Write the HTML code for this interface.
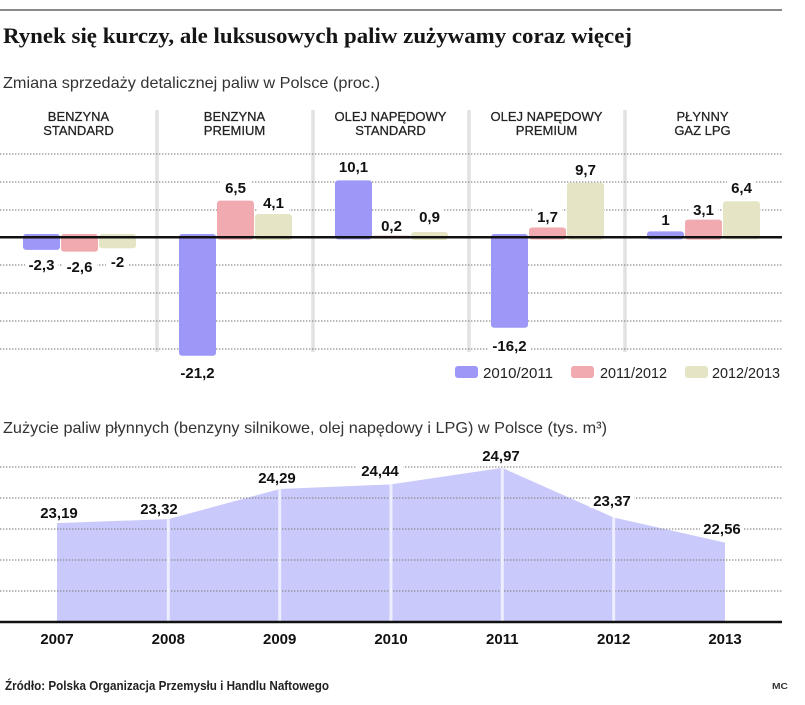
<!DOCTYPE html>
<html><head><meta charset="utf-8">
<style>
html,body{margin:0;padding:0;background:#fff;}
svg{display:block;}
text{font-family:"Liberation Sans",sans-serif;}
</style></head>
<body>
<svg width="805" height="705" viewBox="0 0 805 705" xmlns="http://www.w3.org/2000/svg">
<rect width="805" height="705" fill="#fff"/>
<!-- top rule -->
<line x1="0" y1="10" x2="782" y2="10" stroke="#8a8a8a" stroke-width="2"/>
<!-- title -->
<text x="3" y="43" style="font-family:'Liberation Serif',serif;font-weight:bold;font-size:22px" fill="#151515" textLength="629" lengthAdjust="spacingAndGlyphs">Rynek się kurczy, ale luksusowych paliw zużywamy coraz więcej</text>
<text x="3" y="88" font-size="16" fill="#333" textLength="377" lengthAdjust="spacingAndGlyphs">Zmiana sprzedaży detalicznej paliw w Polsce (proc.)</text>

<!-- category headers -->
<g font-size="13" fill="#222" text-anchor="middle" stroke="#222" stroke-width="0.25">
<text x="78.5" y="121">BENZYNA</text><text x="78.5" y="135">STANDARD</text>
<text x="234.5" y="121">BENZYNA</text><text x="234.5" y="135">PREMIUM</text>
<text x="390.5" y="121">OLEJ NAPĘDOWY</text><text x="390.5" y="135">STANDARD</text>
<text x="546.5" y="121">OLEJ NAPĘDOWY</text><text x="546.5" y="135">PREMIUM</text>
<text x="702.5" y="121">PŁYNNY</text><text x="702.5" y="135">GAZ LPG</text>
</g>

<!-- separators -->
<g stroke="#e2e2e2" stroke-width="3.5">
<line x1="157" y1="110" x2="157" y2="352"/>
<line x1="313" y1="110" x2="313" y2="352"/>
<line x1="469" y1="110" x2="469" y2="352"/>
<line x1="625" y1="110" x2="625" y2="352"/>
</g>

<!-- dotted grid top -->
<g stroke="#8c8c8c" stroke-width="1.3" stroke-dasharray="1.4 1.6">
<line x1="0" y1="154" x2="782" y2="154"/>
<line x1="0" y1="182" x2="782" y2="182"/>
<line x1="0" y1="210" x2="782" y2="210"/>
<line x1="0" y1="265" x2="782" y2="265"/>
<line x1="0" y1="293" x2="782" y2="293"/>
<line x1="0" y1="321" x2="782" y2="321"/>
<line x1="0" y1="349" x2="782" y2="349"/>
</g>

<!-- bars -->
<g>
<rect x="23" y="234" width="37" height="15.9" rx="3" fill="#9d97f7"/>
<rect x="61" y="234" width="37" height="17.6" rx="3" fill="#f1aaaf"/>
<rect x="99" y="234" width="37" height="14.2" rx="3" fill="#e5e5c6"/>

<rect x="179" y="234" width="37" height="121.7" rx="3" fill="#9d97f7"/>
<rect x="217" y="200.6" width="37" height="39" rx="3" fill="#f1aaaf"/>
<rect x="255" y="214" width="37" height="26" rx="3" fill="#e5e5c6"/>

<rect x="335" y="180.4" width="37" height="59" rx="3" fill="#9d97f7"/>
<rect x="373" y="235.6" width="37" height="3" rx="1" fill="#f1aaaf"/>
<rect x="411" y="232" width="37" height="8" rx="3" fill="#e5e5c6"/>

<rect x="491" y="234" width="37" height="93.7" rx="3" fill="#9d97f7"/>
<rect x="529" y="227.5" width="37" height="12" rx="3" fill="#f1aaaf"/>
<rect x="567" y="182.7" width="37" height="57" rx="3" fill="#e5e5c6"/>

<rect x="647" y="231.4" width="37" height="8" rx="3" fill="#9d97f7"/>
<rect x="685" y="219.6" width="37" height="20" rx="3" fill="#f1aaaf"/>
<rect x="723" y="201.2" width="37" height="38" rx="3" fill="#e5e5c6"/>
</g>
<!-- zero line -->
<line x1="0" y1="237.3" x2="782" y2="237.3" stroke="#111" stroke-width="2.5"/>

<!-- value labels -->
<g font-size="15" font-weight="bold" fill="#111" text-anchor="middle">
<rect x="25" y="257" width="33" height="16" fill="#fff"/><text x="41.5" y="270">-2,3</text>
<rect x="62" y="259" width="35" height="16" fill="#fff"/><text x="79.5" y="272">-2,6</text>
<rect x="106" y="254" width="23" height="16" fill="#fff"/><text x="117.5" y="267">-2</text>
<text x="197.5" y="378">-21,2</text>
<rect x="220" y="180" width="31" height="16" fill="#fff"/><text x="235.5" y="193">6,5</text>
<rect x="258" y="195" width="31" height="16" fill="#fff"/><text x="273.5" y="208">4,1</text>
<rect x="336" y="159" width="35" height="16" fill="#fff"/><text x="353.5" y="172">10,1</text>
<rect x="377" y="218" width="29" height="16" fill="#fff"/><text x="391.5" y="231">0,2</text>
<rect x="415" y="209" width="29" height="16" fill="#fff"/><text x="429.5" y="222">0,9</text>
<rect x="489" y="338" width="41" height="16" fill="#fff"/><text x="509.5" y="351">-16,2</text>
<rect x="533" y="209" width="29" height="16" fill="#fff"/><text x="547.5" y="222">1,7</text>
<rect x="571" y="162" width="29" height="16" fill="#fff"/><text x="585.5" y="175">9,7</text>
<rect x="658" y="212" width="15" height="16" fill="#fff"/><text x="665.5" y="225">1</text>
<rect x="689" y="202" width="29" height="16" fill="#fff"/><text x="703.5" y="215">3,1</text>
<rect x="727" y="180" width="29" height="16" fill="#fff"/><text x="741.5" y="193">6,4</text>
</g>

<!-- legend -->
<rect x="455" y="366" width="23" height="12" rx="3" fill="#9d97f7"/>
<text x="483" y="378" font-size="15" fill="#222" textLength="70" lengthAdjust="spacingAndGlyphs">2010/2011</text>
<rect x="571" y="366" width="23" height="12" rx="3" fill="#f1aaaf"/>
<text x="600" y="378" font-size="15" fill="#222" textLength="67" lengthAdjust="spacingAndGlyphs">2011/2012</text>
<rect x="685" y="366" width="23" height="12" rx="3" fill="#e5e5c6"/>
<text x="712" y="378" font-size="15" fill="#222" textLength="68" lengthAdjust="spacingAndGlyphs">2012/2013</text>

<!-- second chart -->
<text x="3" y="433" font-size="16" fill="#333" textLength="604" lengthAdjust="spacingAndGlyphs">Zużycie paliw płynnych (benzyny silnikowe, olej napędowy i LPG) w Polsce (tys. m³)</text>

<path d="M57,523.1 L168.3,519.1 L279.7,489 L391,484.4 L502.3,467.9 L613.7,517.5 L725,542.6 L725,622 L57,622 Z" fill="#c9c9fb"/>

<g stroke="#8c8c8c" stroke-width="1.3" stroke-dasharray="1.4 1.6">
<line x1="0" y1="467" x2="782" y2="467"/>
<line x1="0" y1="498" x2="782" y2="498"/>
<line x1="0" y1="529" x2="782" y2="529"/>
<line x1="0" y1="560" x2="782" y2="560"/>
<line x1="0" y1="591" x2="782" y2="591"/>
</g>

<g stroke="#eeeefe" stroke-width="3">
<line x1="168.3" y1="519.1" x2="168.3" y2="622"/>
<line x1="279.7" y1="489" x2="279.7" y2="622"/>
<line x1="391" y1="484.4" x2="391" y2="622"/>
<line x1="502.3" y1="467.9" x2="502.3" y2="622"/>
<line x1="613.7" y1="517.5" x2="613.7" y2="622"/>
</g>

<line x1="0" y1="622" x2="782" y2="622" stroke="#111" stroke-width="2.5"/>

<g font-size="15" font-weight="bold" fill="#111" text-anchor="middle">
<text x="59" y="518">23,19</text>
<rect x="138" y="500" width="42" height="16" fill="#fff"/><text x="159" y="514">23,32</text>
<text x="277" y="483">24,29</text>
<rect x="357" y="462" width="46" height="16" fill="#fff"/><text x="380" y="476">24,44</text>
<text x="501" y="461">24,97</text>
<rect x="590" y="492" width="44" height="16" fill="#fff"/><text x="612" y="506">23,37</text>
<rect x="700" y="520" width="44" height="16" fill="#fff"/><text x="722" y="534">22,56</text>
</g>

<g font-size="15" font-weight="bold" fill="#111" text-anchor="middle">
<text x="57" y="644">2007</text>
<text x="168.3" y="644">2008</text>
<text x="279.7" y="644">2009</text>
<text x="391" y="644">2010</text>
<text x="502.3" y="644">2011</text>
<text x="613.7" y="644">2012</text>
<text x="725" y="644">2013</text>
</g>

<text x="5" y="690" font-size="12.5" font-weight="bold" fill="#222" textLength="324" lengthAdjust="spacingAndGlyphs">Źródło: Polska Organizacja Przemysłu i Handlu Naftowego</text>
<text x="772" y="689" font-size="8" font-weight="bold" fill="#333" textLength="16" lengthAdjust="spacingAndGlyphs">MC</text>
</svg>
</body></html>
